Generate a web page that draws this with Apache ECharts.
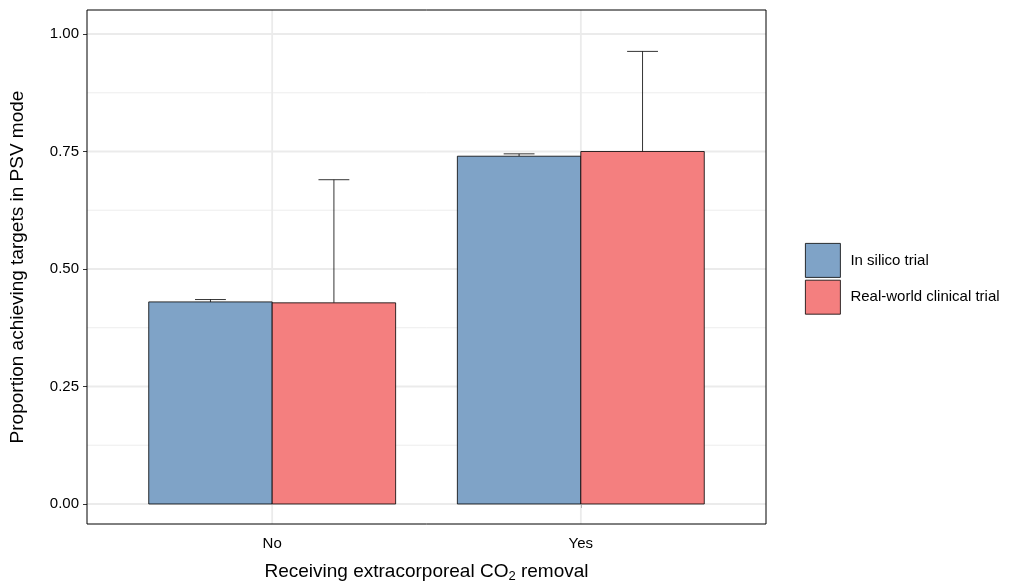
<!DOCTYPE html>
<html>
<head>
<meta charset="utf-8">
<script src="https://cdn.jsdelivr.net/npm/echarts@6/dist/echarts.min.js"></script>
<style>html,body{margin:0;padding:0;background:#fff}#chart{width:1033px;height:586px}</style>
</head>
<body>
<div id="chart"></div>
<script>
const categories = ['No', 'Yes'];
const seriesNames = ['In silico trial', 'Real-world clinical trial'];
const silicoValues = [0.430, 0.740];
const silicoUpper = [0.435, 0.745];
const realValues = [0.428, 0.750];
const realUpper = [0.690, 0.963];
const yTicks = [0, 0.25, 0.5, 0.75, 1];
const yMinor = [0.125, 0.375, 0.625, 0.875];

const colors = ['#7fa3c7', '#f47f7f'];
const font = 'Liberation Sans, Arial, sans-serif';
const chart = echarts.init(document.getElementById('chart'));

function barItem(offset) {
  return function(params, api) {
    const x = api.value(0), v = api.value(1);
    const p0 = api.coord([x + offset, 0]);
    const p1 = api.coord([x + offset + 0.4, v]);
    return {
      type: 'rect',
      shape: {x: p0[0], y: p1[1], width: p1[0] - p0[0], height: p0[1] - p1[1]},
      style: {fill: api.visual('color'), stroke: '#000', lineWidth: 0.8}
    };
  };
}

function errItem(offset) {
  return function(params, api) {
    const x = api.value(0) + offset;
    const top = api.coord([x, api.value(2)]);
    const mid = api.coord([x, api.value(1)]);
    const l = api.coord([x - 0.05, 0])[0], r = api.coord([x + 0.05, 0])[0];
    return {
      type: 'group', children: [
        {type: 'line', shape: {x1: top[0], y1: top[1], x2: mid[0], y2: mid[1]}, style: {stroke: '#000', lineWidth: 0.8}},
        {type: 'line', shape: {x1: l, y1: top[1], x2: r, y2: top[1]}, style: {stroke: '#000', lineWidth: 0.8}}
      ]
    };
  };
}

function gridItem(params, api) {
  const kind = api.value(0), v = api.value(1);
  const w = kind === 0 ? 0.9 : 1.8;
  if (kind === 2) {
    const a = api.coord([v, 0]);
    const t = api.coord([v, 1.0511]), b = api.coord([v, -0.0426]);
    return {type: 'line', shape: {x1: a[0], y1: t[1], x2: a[0], y2: b[1]}, style: {stroke: '#ebebeb', lineWidth: w}};
  }
  const a = api.coord([0.4, v]), b = api.coord([2.6, v]);
  return {type: 'line', shape: {x1: a[0], y1: a[1], x2: b[0], y2: b[1]}, style: {stroke: '#ebebeb', lineWidth: w}};
}

const gridData = yTicks.map(v => [1, v]).concat(yMinor.map(v => [0, v])).concat(categories.map((c, i) => [2, i + 1]));

chart.setOption({
  animation: false,
  grid: {left: 87, top: 10, width: 679, height: 514, outerBoundsMode: 'none', containLabel: false,
    show: true, borderColor: '#000', borderWidth: 1, z: 10},
  legend: {
    data: seriesNames, orient: 'vertical', left: 800, top: 238, itemWidth: 35, itemHeight: 34, itemGap: 2,
    icon: 'rect', itemStyle: {borderWidth: 0.8, borderColor: '#000'},
    textStyle: {fontFamily: font, fontSize: 15, color: '#000', padding: [0, 0, 0, 5]}, selectedMode: false
  },
  xAxis: {
    type: 'value', min: 0.4, max: 2.6,
    axisLine: {show: false}, splitLine: {show: false},
    axisTick: {show: true, customValues: [1, 2], length: 4, lineStyle: {color: '#333'}},
    axisLabel: {customValues: [1, 2], formatter: v => categories[Math.round(v) - 1], fontFamily: font, fontSize: 15, color: '#000', margin: 12},
    name: '{a|Receiving extracorporeal CO}{s|2}{a| removal}', nameLocation: 'middle', nameGap: 36,
    nameTextStyle: {rich: {a: {fontFamily: font, fontSize: 19, color: '#000'}, s: {fontFamily: font, fontSize: 13, color: '#000', verticalAlign: 'bottom', padding: [10, 0, 0, 0]}}}
  },
  yAxis: {
    type: 'value', min: -0.0426, max: 1.0511,
    axisLine: {show: false}, splitLine: {show: false},
    axisTick: {show: true, customValues: yTicks, length: 4, lineStyle: {color: '#333'}},
    axisLabel: {customValues: yTicks, formatter: v => v.toFixed(2), fontFamily: font, fontSize: 15, color: '#000', margin: 8},
    name: 'Proportion achieving targets in PSV mode', nameLocation: 'middle', nameGap: 60,
    nameTextStyle: {fontFamily: font, fontSize: 19, color: '#000'}
  },
  series: [
    {type: 'custom', silent: true, renderItem: gridItem, data: gridData, z: 1},
    {type: 'custom', silent: true, renderItem: errItem(-0.2), data: categories.map((c, i) => [i + 1, silicoValues[i], silicoUpper[i]]), z: 2},
    {type: 'custom', silent: true, renderItem: errItem(0.2), data: categories.map((c, i) => [i + 1, realValues[i], realUpper[i]]), z: 2},
    {name: seriesNames[0], type: 'custom', renderItem: barItem(-0.4), data: categories.map((c, i) => [i + 1, silicoValues[i]]),
      itemStyle: {color: colors[0], borderColor: '#000', borderWidth: 0.8}, z: 3},
    {name: seriesNames[1], type: 'custom', renderItem: barItem(0), data: categories.map((c, i) => [i + 1, realValues[i]]),
      itemStyle: {color: colors[1], borderColor: '#000', borderWidth: 0.8}, z: 3}
  ]
});
</script>
</body>
</html>
